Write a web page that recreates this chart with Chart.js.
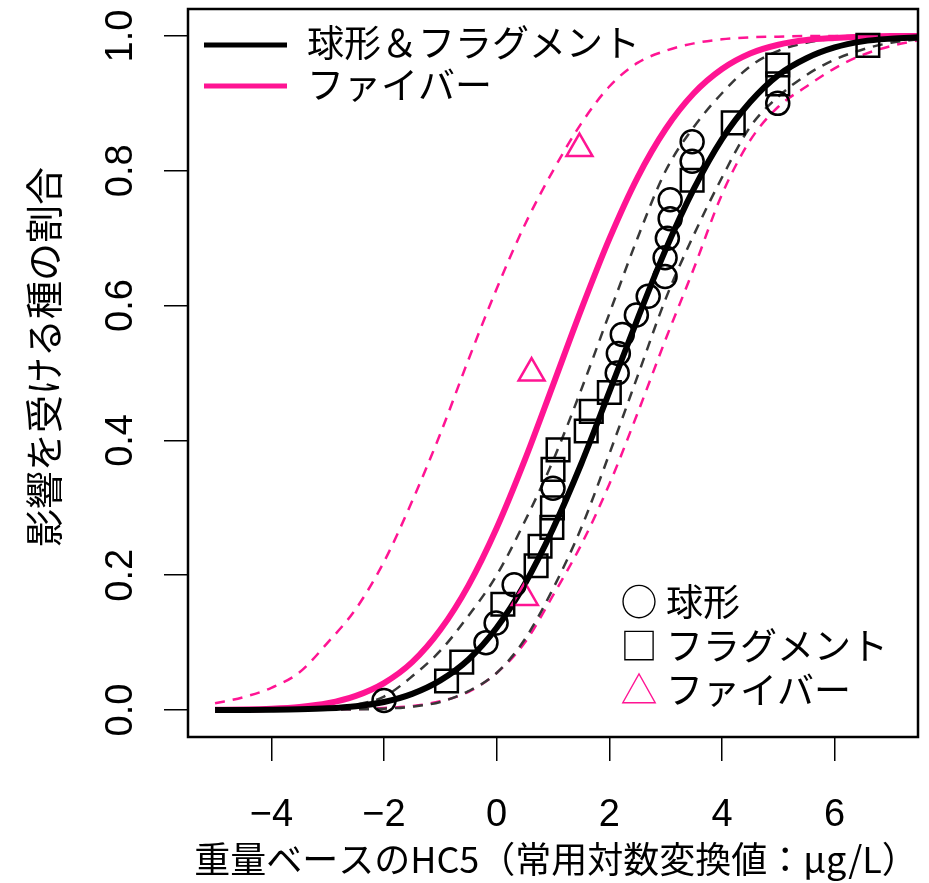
<!DOCTYPE html>
<html>
<head>
<meta charset="utf-8">
<script src="https://cdn.jsdelivr.net/npm/chart.js@4.4.1/dist/chart.umd.min.js"></script>
<style>
  body { margin: 0; background: #fff; }
  #wrap { width: 929px; height: 883px; }
</style>
</head>
<body>
<div id="wrap"><canvas id="c" width="929" height="883"></canvas></div>
<script>
// tick labels
const xTicks = [-4, -2, 0, 2, 4, 6];
const yTicks = [0, 0.2, 0.4, 0.6, 0.8, 1.0];

// observed points (log10 HC5, plotting position)
const sphereX = [-2.00, -0.19, -0.01, 0.31, 1.00, 2.14, 2.16, 2.23, 2.48, 2.69, 2.99, 2.99, 3.03, 3.08, 3.08, 3.47, 3.47, 4.99];
const sphereY = [0.014, 0.100, 0.129, 0.186, 0.329, 0.500, 0.529, 0.557, 0.586, 0.614, 0.643, 0.671, 0.700, 0.729, 0.757, 0.814, 0.843, 0.900];
const fragX = [-0.89, -0.62, 0.11, 0.70, 0.77, 0.98, 0.99, 1.00, 1.09, 1.59, 1.68, 2.00, 3.47, 4.20, 4.99, 4.99, 6.59];
const fragY = [0.043, 0.071, 0.157, 0.214, 0.243, 0.271, 0.300, 0.357, 0.386, 0.414, 0.443, 0.471, 0.786, 0.871, 0.929, 0.957, 0.986];
const fiberX = [0.50, 0.62, 1.47];
const fiberY = [0.167, 0.500, 0.833];

// fitted curves and their bounds, read along x
const xGrid = [-5, -4.5, -4, -3.5, -3, -2.5, -2, -1.5, -1, -0.5, 0, 0.5, 1, 1.5, 2, 2.5, 3, 3.5, 4, 4.5, 5, 5.5, 6, 6.5, 7, 7.5];
const fitAll  = [0.0001, 0.0002, 0.0004, 0.001, 0.0025, 0.0057, 0.012, 0.024, 0.044, 0.075, 0.122, 0.187, 0.269, 0.365, 0.472, 0.580, 0.683, 0.773, 0.847, 0.902, 0.942, 0.967, 0.983, 0.992, 0.996, 0.998];
const allHigh = [0.0001, 0.0002, 0.0004, 0.001, 0.003, 0.008, 0.020, 0.050, 0.088, 0.140, 0.200, 0.280, 0.370, 0.475, 0.588, 0.700, 0.800, 0.865, 0.915, 0.955, 0.978, 0.990, 0.996, 0.999, 1, 1];
const allLow  = [0, 0, 0.0001, 0.0002, 0.0005, 0.001, 0.002, 0.005, 0.012, 0.028, 0.055, 0.105, 0.180, 0.270, 0.380, 0.495, 0.610, 0.705, 0.790, 0.865, 0.910, 0.942, 0.965, 0.980, 0.990, 0.995];
const fitFiber  = [0.0003, 0.0008, 0.002, 0.0046, 0.010, 0.021, 0.040, 0.071, 0.119, 0.185, 0.270, 0.371, 0.482, 0.594, 0.699, 0.790, 0.862, 0.915, 0.951, 0.974, 0.987, 0.994, 0.997, 0.999, 1, 1];
const fiberHigh = [0.010, 0.019, 0.033, 0.056, 0.100, 0.150, 0.220, 0.310, 0.410, 0.520, 0.625, 0.720, 0.800, 0.870, 0.925, 0.960, 0.978, 0.989, 0.995, 0.998, 0.999, 1, 1, 1, 1, 1];
const fiberLow  = [0, 0, 0.0002, 0.0004, 0.0008, 0.0015, 0.003, 0.006, 0.013, 0.027, 0.055, 0.100, 0.170, 0.245, 0.335, 0.440, 0.550, 0.655, 0.765, 0.845, 0.895, 0.925, 0.952, 0.972, 0.985, 0.994];

const PINK = '#ff1493';
const DARK = '#383838';
const JP = '"Noto Sans CJK JP", "Noto Sans", sans-serif';
const NUM = '"Liberation Sans", Arial, sans-serif';

const pts = (xs, ys) => xs.map((v, i) => ({ x: v, y: ys[i] }));

function curve(ys, color, width, dash, order) {
    return {
        data: pts(xGrid, ys),
        showLine: true,
        pointRadius: 0,
        borderColor: color,
        borderWidth: width,
        borderDash: dash,
        cubicInterpolationMode: 'monotone',
        fill: false,
        order: order
    };
}

function marks(xs, ys, style, radius, color) {
    return {
        data: pts(xs, ys),
        showLine: false,
        pointStyle: style,
        pointRadius: radius,
        pointBorderWidth: 2.5,
        pointBorderColor: color,
        pointBackgroundColor: 'rgba(0,0,0,0)',
        order: 0
    };
}

const overlay = {
    id: 'overlay',
    afterDraw(chart) {
        const { ctx, chartArea: a, scales } = chart;
        const y = scales.y;
        ctx.save();

        ctx.lineWidth = 2.5;
        ctx.strokeStyle = '#000';
        ctx.strokeRect(a.left, a.top, a.right - a.left, a.bottom - a.top);

        // y tick labels, turned like R's default
        ctx.fillStyle = '#000';
        ctx.font = '38px ' + NUM;
        ctx.textAlign = 'center';
        ctx.textBaseline = 'alphabetic';
        yTicks.forEach(v => {
            ctx.save();
            ctx.translate(132, y.getPixelForValue(v));
            ctx.rotate(-Math.PI / 2);
            ctx.fillText(v.toFixed(1), 0, 0);
            ctx.restore();
        });

        // axis titles
        ctx.font = '36px ' + JP;
        ctx.fillText('重量ベースのHC5（常用対数変換値：μg/L）', (a.left + a.right) / 2 + 3, 873);
        ctx.save();
        ctx.font = '38px ' + JP;
        ctx.translate(58, 357);
        ctx.rotate(-Math.PI / 2);
        ctx.fillText('影響を受ける種の割合', 0, 0);
        ctx.restore();

        // line legend, top left
        ctx.font = '37px ' + JP;
        ctx.lineWidth = 5;
        ctx.strokeStyle = '#000';
        ctx.beginPath(); ctx.moveTo(204, 45); ctx.lineTo(287, 45); ctx.stroke();
        ctx.strokeStyle = PINK;
        ctx.beginPath(); ctx.moveTo(204, 86); ctx.lineTo(287, 86); ctx.stroke();
        ctx.textAlign = 'left';
        ctx.fillText('球形＆フラグメント', 307, 57);
        ctx.fillText('ファイバー', 307, 99);

        // symbol legend, bottom right
        ctx.textAlign = 'center';
        ctx.fillText('○', 639, 616);
        ctx.fillText('□', 639, 660);
        ctx.fillStyle = PINK;
        ctx.fillText('△', 639, 704);
        ctx.fillStyle = '#000';
        ctx.textAlign = 'left';
        ctx.fillText('球形', 666, 616);
        ctx.fillText('フラグメント', 666, 660);
        ctx.fillText('ファイバー', 666, 704);

        ctx.restore();
    }
};

new Chart(document.getElementById('c'), {
    type: 'scatter',
    data: {
        datasets: [
            marks(sphereX, sphereY, 'circle', 11.5, '#000'),
            marks(fragX, fragY, 'rect', 16, '#000'),
            marks(fiberX, fiberY, 'triangle', 15, PINK),
            curve(fitAll, '#000', 6, [], 1),
            curve(fitFiber, PINK, 6, [], 2),
            curve(allHigh, DARK, 2.5, [10, 8], 3),
            curve(allLow, DARK, 2.5, [10, 8], 3),
            curve(fiberHigh, PINK, 2.5, [10, 8], 4),
            curve(fiberLow, PINK, 2.5, [10, 8], 4)
        ]
    },
    options: {
        responsive: false,
        animation: false,
        layout: { autoPadding: false, padding: { left: 0, right: 11, top: 9, bottom: 0 } },
        plugins: { legend: { display: false }, tooltip: { enabled: false } },
        scales: {
            x: {
                type: 'linear',
                min: -5.48,
                max: 7.48,
                afterBuildTicks: s => { s.ticks = xTicks.map(v => ({ value: v })); },
                afterFit: s => { s.height = 146; },
                ticks: {
                    color: '#000',
                    padding: 32,
                    font: { family: NUM, size: 38 },
                    maxRotation: 0,
                    callback: v => (v < 0 ? '\u2212' + Math.abs(v) : String(v))
                },
                grid: { drawOnChartArea: false, drawTicks: true, tickLength: 24, color: '#000', lineWidth: 1.5 },
                border: { display: false }
            },
            y: {
                type: 'linear',
                min: -0.04,
                max: 1.04,
                afterBuildTicks: s => { s.ticks = yTicks.map(v => ({ value: v })); },
                afterFit: s => { s.width = 188; },
                ticks: { display: false },
                grid: { drawOnChartArea: false, drawTicks: true, tickLength: 24, color: '#000', lineWidth: 1.5 },
                border: { display: false }
            }
        }
    },
    plugins: [overlay]
});
</script>
</body>
</html>
